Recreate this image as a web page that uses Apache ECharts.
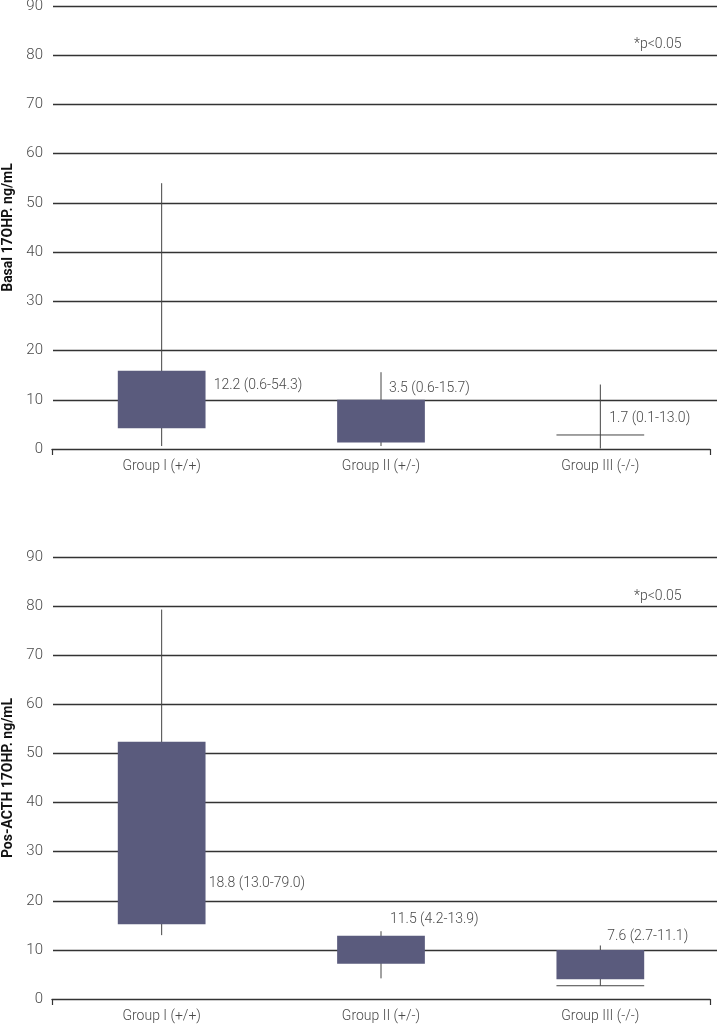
<!DOCTYPE html>
<html>
<head>
<meta charset="utf-8">
<script src="https://cdn.jsdelivr.net/npm/echarts@6/dist/echarts.min.js"></script>
<style>
html,body{margin:0;padding:0;background:#fff;}
#chart{width:717px;height:1024px;}
</style>
</head>
<body>
<div id="chart"></div>
<script>
// ---- data ----
const categories = ['Group I (+/+)', 'Group II (+/-)', 'Group III (-/-)'];
const yTicks = [0, 10, 20, 30, 40, 50, 60, 70, 80, 90];

// Basal 17OHP (drawn box/whisker extents)
const basalLow    = [0.6, 0.6, 0.1];
const basalQ1     = [4.2, 1.3, null];
const basalQ3     = [15.9, 10.0, null];
const basalHigh   = [54.0, 15.6, 13.1];
const basalCap    = [null, null, 2.85];
const basalMedian = [12.2, 3.5, 1.7];
const basalMin    = [0.6, 0.6, 0.1];
const basalMax    = [54.3, 15.7, 13.0];

// Post-ACTH 17OHP
const postLow    = [13.0, 4.2, 2.7];
const postQ1     = [15.2, 7.2, 4.0];
const postQ3     = [52.4, 12.9, 10.0];
const postHigh   = [79.3, 13.8, 10.9];
const postCap    = [null, null, 2.7];
const postMedian = [18.8, 11.5, 7.6];
const postMin    = [13.0, 4.2, 2.7];
const postMax    = [79.0, 13.9, 11.1];

// ---- layout (label anchors, not data) ----
const basalLabelAt = [{y: 13.0, dx: 52}, {y: 12.3, dx: 8}, {y: 6.2, dx: 9}];
const postLabelAt  = [{y: 23.5, dx: 47}, {y: 16.1, dx: 9}, {y: 12.8, dx: 7}];

const FONT = 'Roboto';
const TXT = '#4a4a4a';
const BOX = '#5a5b7d';
const LINE = '#444';
const GRIDC = '#333';

function fmt(m, a, b) {
  return m.toFixed(1) + ' (' + a.toFixed(1) + '-' + b.toFixed(1) + ')';
}

function buildData(low, q1, q3, high, cap) {
  return categories.map((c, i) => [i, low[i], q1[i] == null ? NaN : q1[i], q3[i] == null ? NaN : q3[i], high[i], cap[i] == null ? NaN : cap[i]]);
}

function makeRender(med, mn, mx, lab) {
  return function (params, api) {
    const i = api.value(0);
    const k = params.dataIndex;
    const x = api.coord([i, 0])[0];
    const w = api.size([1, 0])[0] * 0.4;
    const yLow = api.coord([i, api.value(1)])[1];
    const yHigh = api.coord([i, api.value(4)])[1];
    const children = [];
    children.push({type: 'line', shape: {x1: x, y1: yLow, x2: x, y2: yHigh}, style: {stroke: LINE, lineWidth: 1}});
    const q1 = api.value(2), q3 = api.value(3);
    if (!isNaN(q1) && !isNaN(q3)) {
      const y1 = api.coord([i, q1])[1];
      const y3 = api.coord([i, q3])[1];
      children.push({type: 'rect', shape: {x: x - w / 2, y: y3, width: w, height: y1 - y3}, style: {fill: BOX}});
    }
    const cap = api.value(5);
    if (!isNaN(cap)) {
      const yc = api.coord([i, cap])[1];
      children.push({type: 'line', shape: {x1: x - w / 2, y1: yc, x2: x + w / 2, y2: yc}, style: {stroke: LINE, lineWidth: 1}});
    }
    const ly = api.coord([i, lab[k].y])[1];
    children.push({type: 'text', x: x + lab[k].dx, y: ly, style: {text: fmt(med[k], mn[k], mx[k]), fill: TXT, fontFamily: FONT, fontWeight: 300, fontSize: 14, verticalAlign: 'middle', align: 'left'}});
    return {type: 'group', children: children};
  };
}

const chart = echarts.init(document.getElementById('chart'), null, {renderer: 'canvas'});

function yAxis(gridIndex, name) {
  return {
    type: 'value', gridIndex: gridIndex, min: 0, max: 90, interval: 10,
    name: name, nameLocation: 'middle', nameGap: 36,
    nameTextStyle: {fontFamily: FONT, fontWeight: 'bold', fontSize: 14, color: '#111'},
    axisLine: {show: false}, axisTick: {show: false},
    axisLabel: {fontFamily: FONT, fontWeight: 300, fontSize: 15, color: TXT, margin: 9,
      formatter: v => yTicks.indexOf(v) >= 0 ? String(v) : ''},
    splitLine: {show: false}
  };
}

function gridLineAxis(gridIndex) {
  return {
    type: 'value', gridIndex: gridIndex, min: 10, max: 90, interval: 10,
    axisLine: {show: false}, axisTick: {show: false}, axisLabel: {show: false},
    splitLine: {show: true, lineStyle: {color: GRIDC, width: 1.4}}
  };
}

function hiddenX(gridIndex) {
  return {type: 'value', gridIndex: gridIndex, min: 0, max: 1, show: false};
}

function catAxis(gridIndex) {
  return {
    type: 'category', gridIndex: gridIndex, data: categories,
    axisLine: {show: false}, axisTick: {show: false},
    axisLabel: {fontFamily: FONT, fontWeight: 300, fontSize: 14, color: TXT, margin: 10}
  };
}

function lineAxis(gridIndex) {
  return {
    type: 'value', gridIndex: gridIndex, min: 0, max: 3, interval: 3, position: 'bottom',
    axisLine: {show: true, onZero: false, lineStyle: {color: GRIDC, width: 1.4}},
    axisTick: {show: true, inside: false, length: 6, lineStyle: {color: GRIDC, width: 1.2}},
    axisLabel: {show: false}, splitLine: {show: false}
  };
}

const unit = 443 / 90;
chart.setOption({
  animation: false,
  grid: [
    {left: 52, right: 7, top: 6, height: 443, containLabel: false, outerBoundsMode: 'none'},
    {left: 52, right: 7, top: 557, height: 442, containLabel: false, outerBoundsMode: 'none'},
    {left: 53, right: 0, top: 6, height: 443 - 10 * unit, containLabel: false, outerBoundsMode: 'none'},
    {left: 53, right: 0, top: 557, height: 442 - 10 * (442 / 90), containLabel: false, outerBoundsMode: 'none'}
  ],
  xAxis: [catAxis(0), lineAxis(0), catAxis(1), lineAxis(1), hiddenX(2), hiddenX(3)],
  yAxis: [yAxis(0, 'Basal 17OHP. ng/mL'), yAxis(1, 'Pos-ACTH 17OHP. ng/mL'), gridLineAxis(2), gridLineAxis(3)],
  graphic: [
    {type: 'text', left: 634, top: 37, style: {text: '*p<0.05', fill: TXT, font: '300 14px ' + FONT}},
    {type: 'text', left: 634, top: 589, style: {text: '*p<0.05', fill: TXT, font: '300 14px ' + FONT}}
  ],
  series: [
    {type: 'custom', xAxisIndex: 0, yAxisIndex: 0, z: 3,
      renderItem: makeRender(basalMedian, basalMin, basalMax, basalLabelAt),
      encode: {x: 0, y: [1, 4]},
      data: buildData(basalLow, basalQ1, basalQ3, basalHigh, basalCap)},
    {type: 'custom', xAxisIndex: 2, yAxisIndex: 1, z: 3,
      renderItem: makeRender(postMedian, postMin, postMax, postLabelAt),
      encode: {x: 0, y: [1, 4]},
      data: buildData(postLow, postQ1, postQ3, postHigh, postCap)}
  ]
});
</script>
</body>
</html>
